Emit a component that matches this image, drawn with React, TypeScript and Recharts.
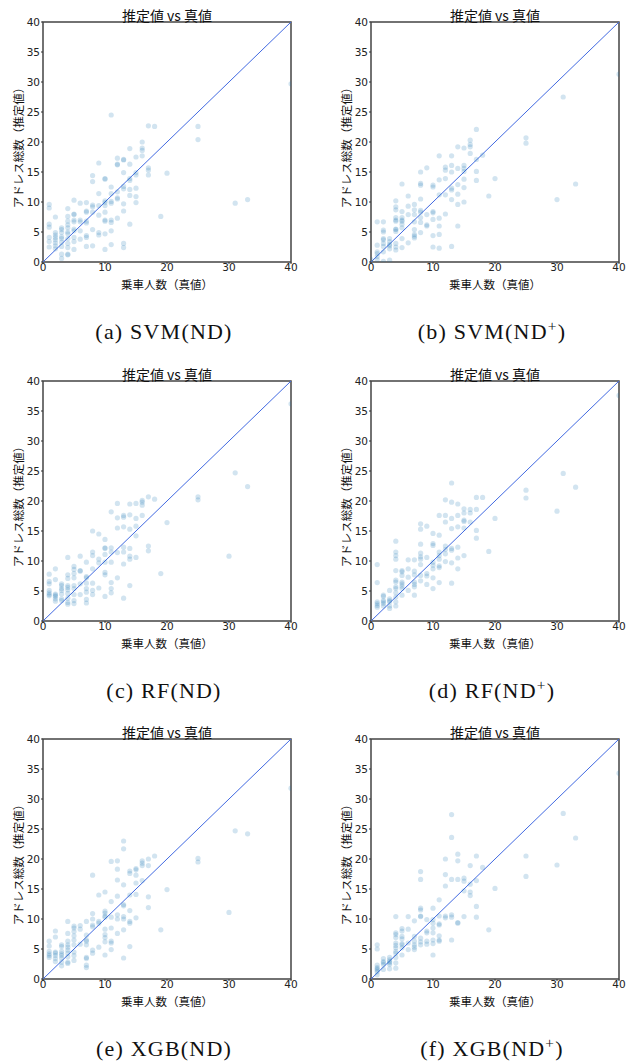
import React from 'react';
import { ScatterChart, Scatter, XAxis, YAxis, ReferenceLine, ReferenceArea } from 'recharts';

// Each row: [true passengers (x), list of estimated address totals (y)]
type Row = [number, number[]];

const svmND: Row[] = [
  [1, [9.6, 9.0, 6.3, 5.8, 4.1, 3.4, 2.5]],
  [2, [7.5, 4.9, 4.5, 4.1, 3.7, 3.2, 2.7, 2.2]],
  [3, [5.7, 5.4, 4.9, 4.2, 3.9, 3.3, 2.6, 1.3, 0.6]],
  [4, [8.9, 7.6, 6.8, 6.2, 5.7, 5.0, 4.7, 3.9, 3.1, 2.4, 1.3, 1.2]],
  [5, [10.3, 8.0, 7.9, 7.0, 6.7, 5.5, 5.2, 4.1, 3.4, 2.1]],
  [6, [9.8, 7.0, 6.7, 5.2, 3.8]],
  [7, [9.9, 8.5, 8.3, 6.8, 6.5, 4.4, 4.1, 2.6]],
  [8, [14.4, 13.4, 9.5, 9.2, 8.3, 5.4, 2.7]],
  [9, [16.5, 11.4, 9.4, 7.8, 4.9, 4.5]],
  [10, [13.9, 13.8, 10.2, 9.9, 9.4, 8.3, 7.0, 6.8, 4.7, 2.1]],
  [11, [24.5, 12.5, 11.4, 10.1, 9.8, 7.0, 6.6, 5.2, 2.9]],
  [12, [17.3, 16.3, 16.2, 11.7, 10.7, 10.5, 7.3]],
  [13, [17.1, 17.0, 14.9, 12.6, 12.2, 9.7, 8.5, 3.1, 2.4]],
  [14, [18.9, 16.3, 13.9, 13.6, 12.1, 11.1, 6.3]],
  [15, [17.5, 14.9, 14.5, 12.3, 10.9, 9.9]],
  [16, [20.0, 19.0, 18.6, 17.7]],
  [17, [22.7, 15.7, 15.3, 14.5]],
  [18, [22.6]],
  [19, [7.6]],
  [20, [14.8]],
  [25, [22.6, 20.4]],
  [31, [9.8]],
  [33, [10.4]],
  [40, [29.7]],
];

const svmNDPlus: Row[] = [
  [0, [0.4]],
  [1, [6.7, 2.8, 1.7, 1.4, 0.9, 0.4]],
  [2, [6.7, 5.3, 5.0, 3.9, 3.7, 3.1, 2.6, 1.7, 0.1]],
  [3, [3.9, 3.4, 2.9, 2.7, 2.2, 0.3]],
  [4, [10.2, 9.2, 8.7, 7.4, 7.0, 6.8, 5.5, 5.4, 5.1, 3.1, 2.5, 2.0]],
  [5, [13.0, 8.4, 7.4, 7.0, 6.8, 6.3, 5.7, 3.9, 2.4]],
  [6, [11.0, 9.3, 7.9, 3.2]],
  [7, [9.6, 8.7, 7.9, 6.7, 5.4, 4.6, 4.3, 4.0]],
  [8, [15.0, 13.1, 12.8, 10.5, 8.6, 8.3, 7.4, 6.6, 4.9]],
  [9, [15.7, 7.9, 6.2, 6.0]],
  [10, [12.8, 12.5, 8.4, 8.2, 7.1, 4.4, 2.5]],
  [11, [17.7, 13.7, 11.2, 7.3, 6.0, 4.6, 2.3]],
  [12, [15.8, 15.3, 13.9, 11.2, 8.0]],
  [13, [17.7, 16.1, 15.0, 12.3, 12.0, 10.4, 2.6]],
  [14, [19.2, 15.6, 12.9, 11.3, 9.6, 6.0]],
  [15, [19.0, 16.1, 15.6, 15.1, 13.8, 12.4, 10.0]],
  [16, [20.3, 19.6, 19.2, 18.1]],
  [17, [22.1, 17.1, 15.1, 13.6]],
  [18, [17.8]],
  [19, [11.0]],
  [20, [13.9]],
  [25, [20.7, 19.8]],
  [30, [10.4]],
  [31, [27.5]],
  [33, [13.0]],
  [40, [31.3]],
];

const rfND: Row[] = [
  [1, [7.8, 6.6, 6.2, 5.1, 4.7, 4.4, 4.2]],
  [2, [8.7, 6.9, 4.5, 4.3, 4.1, 3.7, 3.3]],
  [3, [6.2, 5.9, 5.4, 5.1, 4.5, 3.7, 3.4]],
  [4, [10.6, 7.7, 7.1, 5.9, 5.6, 5.2, 4.6, 3.8, 3.1, 2.8]],
  [5, [9.1, 8.6, 7.9, 7.2, 5.9, 5.4, 4.4, 3.4, 2.9]],
  [6, [10.8, 8.4, 8.3, 6.2, 4.4]],
  [7, [9.8, 7.4, 7.2, 6.3, 5.4, 4.8, 3.6, 3.0]],
  [8, [15.0, 11.5, 10.9, 8.7, 6.3, 5.1, 4.4]],
  [9, [14.5, 10.3, 9.7, 5.5]],
  [10, [13.6, 12.2, 12.1, 11.1, 9.8, 8.1, 7.7, 4.1]],
  [11, [18.2, 12.2, 11.5, 9.8, 6.4, 5.4, 4.7]],
  [12, [19.6, 17.2, 15.5, 11.4, 7.2]],
  [13, [17.6, 17.3, 15.7, 12.3, 11.5, 9.5, 3.8]],
  [14, [19.5, 17.7, 15.3, 12.1, 10.8, 10.3, 5.9]],
  [15, [19.6, 17.1, 15.8, 14.2, 10.6]],
  [16, [20.1, 19.8, 19.3, 17.6]],
  [17, [20.7, 12.5, 11.7]],
  [18, [20.3]],
  [19, [7.9]],
  [20, [16.4]],
  [25, [20.7, 20.2]],
  [30, [10.8]],
  [31, [24.7]],
  [33, [22.4]],
  [40, [36.2]],
];

const rfNDPlus: Row[] = [
  [1, [9.4, 6.4, 3.2, 2.9, 2.6, 2.3]],
  [2, [4.3, 4.1, 3.4, 3.2, 2.9, 2.5]],
  [3, [5.1, 3.7, 3.4, 3.2, 2.5, 2.1]],
  [4, [13.3, 11.5, 10.9, 10.3, 8.4, 6.8, 6.5, 5.7, 5.4, 4.7, 4.0, 3.2, 2.5]],
  [5, [8.4, 8.2, 7.6, 6.5, 6.2, 5.8, 5.4, 4.3]],
  [6, [10.2, 8.7, 7.3, 5.1]],
  [7, [10.2, 8.3, 7.7, 6.5, 6.1, 5.7, 4.3]],
  [8, [16.2, 15.3, 12.8, 11.3, 10.7, 10.3, 9.4, 7.6, 6.7]],
  [9, [15.8, 10.6, 7.9, 7.5, 6.1]],
  [10, [14.6, 12.9, 12.6, 9.8, 9.3, 8.7, 7.2, 5.4]],
  [11, [17.6, 14.3, 11.5, 10.9, 10.3, 9.2, 8.9, 6.4]],
  [12, [20.2, 17.6, 16.5, 12.5, 11.9, 11.2, 9.9]],
  [13, [23.0, 19.8, 17.1, 15.4, 12.1, 11.8, 9.7, 6.3]],
  [14, [19.5, 17.6, 15.7, 12.3, 10.5, 8.7]],
  [15, [18.7, 18.0, 16.8, 16.6, 15.5, 10.9]],
  [16, [18.6, 18.0, 16.5]],
  [17, [20.6, 18.6, 15.1, 13.8]],
  [18, [20.6]],
  [19, [11.6]],
  [20, [17.1]],
  [25, [21.8, 20.5]],
  [30, [18.3]],
  [31, [24.6]],
  [33, [22.3]],
  [40, [37.6]],
];

const xgbND: Row[] = [
  [1, [6.3, 5.5, 4.6, 4.2, 3.9, 3.6]],
  [2, [8.0, 7.0, 4.5, 4.3, 3.9, 3.4, 2.9]],
  [3, [5.7, 5.4, 4.6, 4.2, 3.9, 3.5, 2.8, 2.2]],
  [4, [9.6, 7.6, 6.3, 5.7, 5.3, 4.8, 4.3, 3.7, 2.8, 2.6]],
  [5, [8.8, 8.5, 7.9, 7.2, 6.5, 5.7, 4.5, 3.9, 3.1]],
  [6, [8.9, 8.3, 5.8]],
  [7, [9.6, 7.3, 6.5, 6.3, 5.7, 3.6, 3.4, 2.3, 1.9]],
  [8, [17.3, 10.9, 10.0, 9.0, 8.7, 4.8, 4.3]],
  [9, [14.0, 9.6, 9.3, 5.3]],
  [10, [14.5, 11.3, 11.0, 10.5, 10.3, 8.3, 7.4, 6.9, 6.2, 4.0]],
  [11, [19.6, 12.9, 10.3, 8.5, 6.3, 6.0, 4.9]],
  [12, [19.7, 18.3, 16.5, 13.8, 10.7, 10.0, 7.6]],
  [13, [23.0, 21.7, 15.7, 12.4, 12.2, 10.4, 10.0, 8.2, 3.5]],
  [14, [18.0, 17.6, 14.0, 11.4, 9.6, 9.3, 5.4]],
  [15, [18.4, 18.2, 17.3, 16.0, 14.1, 10.2]],
  [16, [19.7, 19.3, 18.9, 16.4]],
  [17, [20.0, 18.9, 13.7, 11.9]],
  [18, [20.5]],
  [19, [8.2]],
  [20, [14.9]],
  [25, [20.1, 19.5]],
  [30, [11.1]],
  [31, [24.7]],
  [33, [24.2]],
  [40, [31.8]],
];

const xgbNDPlus: Row[] = [
  [1, [5.7, 5.0, 2.3, 1.9, 1.7, 1.5, 1.2, 0.7]],
  [2, [3.4, 2.9, 2.7, 2.4, 1.6]],
  [3, [3.6, 3.2, 2.9, 2.7, 2.4, 1.7]],
  [4, [10.4, 7.7, 7.4, 6.9, 6.0, 5.6, 5.2, 4.6, 4.3, 3.6, 2.7, 1.8]],
  [5, [8.4, 8.0, 7.1, 6.7, 5.9, 5.7, 5.2, 4.0]],
  [6, [10.4, 8.3, 6.0, 4.9]],
  [7, [9.7, 7.1, 6.3, 5.7, 5.3, 4.9]],
  [8, [17.9, 16.6, 11.8, 11.5, 10.5, 10.4, 6.8, 6.2, 5.7]],
  [9, [9.9, 8.0, 7.7, 6.3, 5.8]],
  [10, [11.8, 9.9, 9.3, 8.5, 7.7, 6.5, 5.9, 4.0]],
  [11, [13.2, 10.5, 9.2, 9.0, 7.2, 6.5, 6.3]],
  [12, [20.0, 17.4, 15.5, 10.5, 10.2]],
  [13, [27.4, 23.6, 16.6, 10.7, 10.3, 6.5]],
  [14, [20.8, 19.7, 16.6, 9.4, 9.3]],
  [15, [16.8, 16.3, 14.7, 10.4]],
  [16, [18.9, 15.8, 14.5, 13.9]],
  [17, [20.5, 16.4, 12.1, 10.3]],
  [18, [18.6]],
  [19, [8.2]],
  [20, [15.1]],
  [25, [20.5, 17.1]],
  [30, [19.0]],
  [31, [27.6]],
  [33, [23.5]],
  [40, [34.3]],
];

const xTicks = [0, 10, 20, 30, 40];
const yTicks = [0, 5, 10, 15, 20, 25, 30, 35, 40];
const titleText = '推定値 vs 真値';
const xLabelText = '乗車人数（真値）';
const yLabelText = 'アドレス総数（推定値）';

const CJK = '"Noto Sans CJK JP", "Noto Sans", sans-serif';
const TICKF = '"DejaVu Sans", sans-serif';
const SERIF = '"Liberation Serif", "DejaVu Serif", serif';

const flatten = (rows: Row[]) =>
  rows.flatMap(([x, ys]) => ys.map((y) => ({ x, y })));

const Dot = (props: any) => {
  const { cx, cy } = props;
  if (cx == null || cy == null) return null;
  return <circle cx={cx} cy={cy} r={2.6} fill="#1f77b4" fillOpacity={0.2} />;
};

const PW = 248;
const PH = 240;

type PanelProps = {
  left: number;
  top: number;
  rows: Row[];
  label: string;
  model: string;
  plus: boolean;
};

const Panel = ({ left, top, rows, label, model, plus }: PanelProps) => {
  const data = flatten(rows);
  return (
    <>
      <div style={{ position: 'absolute', left: left - 43, top: top - 22, width: 300, height: 300 }}>
        <ScatterChart width={300} height={300} margin={{ top: 22, right: 9, bottom: 18, left: 13 }}>
          <XAxis
            type="number"
            dataKey="x"
            domain={[0, 40]}
            ticks={xTicks}
            height={20}
            tickSize={2}
            tickMargin={0}
            axisLine={false}
            tickLine={{ stroke: '#333' }}
            tick={{ fontSize: 10.5, fill: '#222', fontFamily: TICKF }}
            allowDataOverflow
          />
          <YAxis
            type="number"
            dataKey="y"
            domain={[0, 40]}
            ticks={yTicks}
            width={30}
            tickSize={2}
            tickMargin={1}
            axisLine={false}
            tickLine={{ stroke: '#333' }}
            tick={{ fontSize: 10.5, fill: '#222', fontFamily: TICKF }}
            allowDataOverflow
          />
          <Scatter data={data} shape={Dot} isAnimationActive={false} />
          <ReferenceLine
            segment={[{ x: 0, y: 0 }, { x: 40, y: 40 }]}
            stroke="#4169e1"
            strokeWidth={1}
          />
          <ReferenceArea x1={0} x2={40} y1={0} y2={40} fill="none" fillOpacity={0} stroke="#444" strokeWidth={1.5} strokeOpacity={1} />
        </ScatterChart>
      </div>
      <div
        style={{
          position: 'absolute', left, top: top - 15.5, width: PW, textAlign: 'center',
          fontFamily: CJK, fontSize: 14, lineHeight: '16px', color: '#111',
        }}
      >
        {titleText}
      </div>
      <div
        style={{
          position: 'absolute', left, top: top + PH + 14, width: PW, textAlign: 'center',
          fontFamily: CJK, fontSize: 11.5, lineHeight: '16px', color: '#111',
        }}
      >
        {xLabelText}
      </div>
      <div
        style={{
          position: 'absolute', left: left - 25 - 100, top: top + 123 - 8, width: 200, height: 16,
          textAlign: 'center', transform: 'rotate(-90deg)', transformOrigin: '50% 50%',
          fontFamily: CJK, fontSize: 11.5, lineHeight: '16px', color: '#111', whiteSpace: 'nowrap',
        }}
      >
        {yLabelText}
      </div>
      <div
        style={{
          position: 'absolute', left: left + 121 - 120, top: top + PH + 57, width: 240, textAlign: 'center',
          fontFamily: SERIF, fontSize: 22, lineHeight: '26px', color: '#111', letterSpacing: '1.2px',
          whiteSpace: 'nowrap',
        }}
      >
        {label} {model}(ND{plus ? <sup style={{ fontSize: '0.7em', lineHeight: 0 }}>+</sup> : null})
      </div>
    </>
  );
};

export default function App() {
  return (
    <div style={{ position: 'absolute', left: 0, top: 0, width: 636, height: 1064, background: '#fff' }}>
      <Panel left={43} top={22} rows={svmND} label="(a)" model="SVM" plus={false} />
      <Panel left={371} top={22} rows={svmNDPlus} label="(b)" model="SVM" plus={true} />
      <Panel left={43} top={381} rows={rfND} label="(c)" model="RF" plus={false} />
      <Panel left={371} top={381} rows={rfNDPlus} label="(d)" model="RF" plus={true} />
      <Panel left={43} top={739} rows={xgbND} label="(e)" model="XGB" plus={false} />
      <Panel left={371} top={739} rows={xgbNDPlus} label="(f)" model="XGB" plus={true} />
    </div>
  );
}
